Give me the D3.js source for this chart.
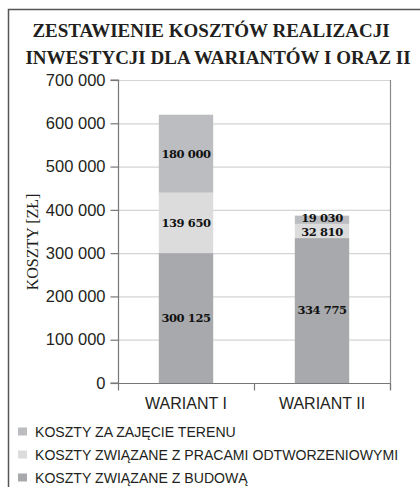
<!DOCTYPE html>
<html><head><meta charset="utf-8">
<script src="https://cdn.jsdelivr.net/npm/d3@7"></script>
<style>
html,body{margin:0;padding:0;background:#fff;}
svg{display:block;}
</style></head>
<body>
<script>
const categories = ["WARIANT I", "WARIANT II"];
const seriesNames = ["KOSZTY ZWIĄZANE Z BUDOWĄ", "KOSZTY ZWIĄZANE Z PRACAMI ODTWORZENIOWYMI", "KOSZTY ZA ZAJĘCIE TERENU"];
const budowa = [300125, 334775];
const odtworzeniowe = [139650, 32810];
const teren = [180000, 19030];
const yTicks = [0, 100000, 200000, 300000, 400000, 500000, 600000, 700000];
const legendOrder = [2, 1, 0];
const colors = ["#a8a9ac", "#dcdcdd", "#bcbdc0"];

const W = 420, H = 487;
const svg = d3.select("body").append("svg").attr("width", W).attr("height", H);

// outer frame
svg.append("path").attr("d", `M8.5,${H} V9.5 H${W}`).attr("fill","none").attr("stroke","#555").attr("stroke-width",1.5);

// title
const title = svg.append("text").attr("text-anchor","middle")
  .attr("font-family","'Liberation Serif', 'Times New Roman', serif").attr("font-weight","bold")
  .attr("font-size",19).attr("fill","#231f20");
title.append("tspan").attr("x",211).attr("y",37).text("ZESTAWIENIE KOSZTÓW REALIZACJI");
title.append("tspan").attr("x",218).attr("y",64).text("INWESTYCJI DLA WARIANTÓW I ORAZ II");

const m = {left:118, right:390, top:80, bottom:383};
const x = d3.scaleBand().domain(categories).range([m.left, m.right]).paddingInner(0.6).paddingOuter(0.3);
const y = d3.scaleLinear().domain([0, 700000]).range([m.bottom, m.top]);

// gridlines
svg.append("g").selectAll("line").data(yTicks.slice(1)).join("line")
  .attr("x1", m.left).attr("x2", m.right)
  .attr("y1", d=>y(d)+0.5).attr("y2", d=>y(d)+0.5)
  .attr("stroke","#d4d4d4").attr("stroke-width",1.2);
// right border
svg.append("line").attr("x1",m.right+0.5).attr("x2",m.right+0.5).attr("y1",m.top).attr("y2",m.bottom+7)
  .attr("stroke","#8a8a8a").attr("stroke-width",1.2);

// stacked data
const table = categories.map((c,i)=>({cat:c, s0:budowa[i], s1:odtworzeniowe[i], s2:teren[i]}));
const stack = d3.stack().keys(["s0","s1","s2"])(table);

svg.append("g").selectAll("g").data(stack).join("g")
  .attr("fill",(d,i)=>colors[i])
  .selectAll("rect").data(d=>d).join("rect")
  .attr("x", d=>x(d.data.cat)).attr("width", x.bandwidth())
  .attr("y", d=>y(d[1])).attr("height", d=>y(d[0])-y(d[1]));

// value labels
const fmt = v => d3.format(",")(v).replace(/,/g," ");
const labelG = svg.append("g").attr("font-family","'DejaVu Serif', serif").attr("font-weight","bold")
  .attr("font-size",11.5).attr("fill","#111").attr("text-anchor","middle").attr("letter-spacing","-0.4");
stack.forEach((layer,li)=>{
  layer.forEach((d,ci)=>{
    let cy = (y(d[0])+y(d[1]))/2;
    // small stacked segments: nudge labels apart slightly
    const h = y(d[0]) - y(d[1]);
    if (h < 16) cy += (li === 2 ? -1.2 : 1.0);
    labelG.append("text").attr("x", x(d.data.cat)+x.bandwidth()/2).attr("y", cy)
      .attr("dy","0.34em").text(fmt(d[1]-d[0]));
  });
});

// y axis
const yAxis = d3.axisLeft(y).tickValues(yTicks).tickSize(8).tickPadding(5).tickFormat(fmt);
const gy = svg.append("g").attr("transform",`translate(${m.left+0.5},0)`).call(yAxis);
gy.select(".domain").attr("stroke","#777").attr("stroke-width",1.2).attr("d",`M-8,${m.bottom}H0V${m.top}H-8`);
gy.selectAll(".tick line").attr("stroke","#777").attr("stroke-width",1.2);
gy.selectAll(".tick text").attr("font-family","'Liberation Sans', Arial, sans-serif").attr("font-size",16.5).attr("fill","#231f20");

// x axis
const xAxis = d3.axisBottom(x).tickSize(0).tickPadding(14);
const gx = svg.append("g").attr("transform",`translate(0,${m.bottom+0.5})`).call(xAxis);
gx.select(".domain").attr("stroke","#777").attr("stroke-width",1.2).attr("d",`M${m.left},0H${m.right}`);
gx.selectAll(".tick text").attr("font-family","'Liberation Sans', Arial, sans-serif").attr("font-size",16).attr("fill","#231f20");
// category separator ticks
const sepTicks = [m.left, (m.left+m.right)/2, m.right];
gx.append("g").selectAll("line").data(sepTicks).join("line")
  .attr("x1",d=>d+0.5).attr("x2",d=>d+0.5).attr("y1",0).attr("y2",7).attr("stroke","#777").attr("stroke-width",1.2);

// y title
svg.append("text").attr("transform","translate(38,242) rotate(-90)").attr("text-anchor","middle")
  .attr("font-family","'Liberation Serif', 'Times New Roman', serif").attr("font-size",16).attr("fill","#231f20")
  .text("KOSZTY [ZŁ]");

// legend
const lg = svg.append("g");
legendOrder.forEach((si,i)=>{
  const ly = 432 + i*23;
  lg.append("rect").attr("x",18).attr("y",ly-4.5).attr("width",9).attr("height",8).attr("fill",colors[si]);
  lg.append("text").attr("x",35).attr("y",ly).attr("dy","0.36em")
    .attr("font-family","'Liberation Sans', Arial, sans-serif").attr("font-size",14.1).attr("fill","#231f20")
    .text(seriesNames[si]);
});
</script>
</body></html>
